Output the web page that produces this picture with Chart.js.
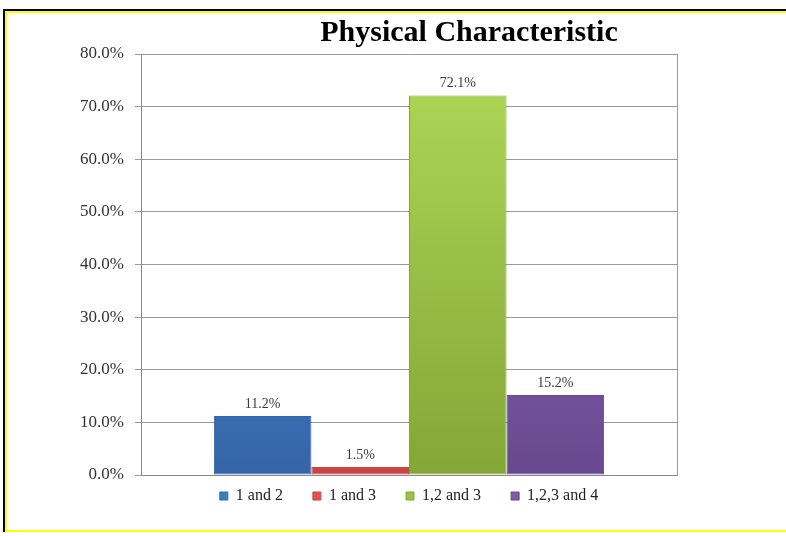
<!DOCTYPE html>
<html>
<head>
<meta charset="utf-8">
<script src="https://cdn.jsdelivr.net/npm/chart.js@4.4.0/dist/chart.umd.min.js"></script>
<style>
  html, body { margin: 0; padding: 0; background: #fff; overflow: hidden; width: 786px; height: 536px; }
  #frame { position: absolute; left: 3px; top: 9px; width: 1000px; height: 521px; border-top: 2px solid #000; border-left: 2px solid #000; }
  #inner { width: 100%; height: 100%; box-sizing: border-box; border-top: 2px solid #ffff00; border-left: 2px solid #ffff00; border-bottom: 2px solid #ffff00; }
  #chartBox { position: absolute; left: 7px; top: 13px; }
</style>
</head>
<body>
<div id="frame"><div id="inner"></div></div>
<div id="chartBox"><canvas id="myChart" width="924" height="519"></canvas></div>
<script>
// data
const seriesNames = ["1 and 2", "1 and 3", "1,2 and 3", "1,2,3 and 4"];
const seriesValues = [11.2, 1.5, 72.1, 15.2];
const yTicks = [0, 10, 20, 30, 40, 50, 60, 70, 80];

// colours: light top, dark bottom, border
const lightColors = ['#4d8ddb', '#ee6a68', '#b0d857', '#9270c4'];
const darkColors = ['#3465a8', '#c94443', '#84a637', '#68498f'];
const baseColors = ['#3f7bc6', '#e05352', '#9dc048', '#7d5aab'];

function barFill(i) {
  return function (ctx) {
    const area = ctx.chart.chartArea;
    if (!area) return baseColors[i];
    const g = ctx.chart.ctx.createLinearGradient(0, area.top, 0, area.bottom);
    g.addColorStop(0, lightColors[i]);
    g.addColorStop(1, darkColors[i]);
    return g;
  };
}

// value labels above bars
const valueLabels = {
  id: 'valueLabels',
  afterDatasetsDraw(chart) {
    const c = chart.ctx;
    c.save();
    c.font = '14px "Liberation Serif", "DejaVu Serif", serif';
    c.fillStyle = '#3a3a3a';
    c.textAlign = 'center';
    c.textBaseline = 'bottom';
    chart.data.datasets.forEach((ds, i) => {
      const bar = chart.getDatasetMeta(i).data[0];
      c.fillText(ds.data[0].toFixed(1) + '%', bar.x, bar.y - 5);
    });
    c.restore();
  }
};

const ctx = document.getElementById("myChart");
new Chart(ctx, {
  type: "bar",
  data: {
    labels: [""],
    datasets: seriesNames.map((name, i) => ({
      label: name,
      data: [seriesValues[i]],
      backgroundColor: barFill(i),
      borderColor: darkColors[i],
      borderWidth: 1,
      borderSkipped: false,
    })),
  },
  options: {
    responsive: false,
    animation: false,
    devicePixelRatio: 1,
    layout: { padding: { left: 0, right: 0, top: 0, bottom: 1 } },
    datasets: { bar: { categoryPercentage: 0.728, barPercentage: 1 } },
    plugins: {
      title: {
        display: true,
        text: "Physical Characteristic",
        color: '#000',
        font: { family: '"Liberation Serif", "DejaVu Serif", serif', size: 30, weight: 'bold' },
        padding: { top: 2, bottom: 3 },
      },
      legend: {
        position: 'bottom',
        fullSize: false,
        labels: {
          boxWidth: 8,
          boxHeight: 8,
          padding: 30,
          color: '#222',
          font: { family: '"Liberation Serif", "DejaVu Serif", serif', size: 16 },
          generateLabels(chart) {
            return chart.data.datasets.map((ds, i) => ({
              text: ds.label,
              fillStyle: baseColors[i],
              strokeStyle: darkColors[i],
              lineWidth: 1,
              datasetIndex: i,
              fontColor: '#222',
            }));
          },
        },
      },
      tooltip: { enabled: false },
    },
    scales: {
      x: {
        grid: { display: true, offset: true, drawTicks: false, color: '#9a9a9a' },
        border: { color: '#888' },
        ticks: { display: false },
        afterFit(scale) { scale.height = -17; },
      },
      y: {
        min: 0,
        max: 80,
        afterBuildTicks(scale) { scale.ticks = yTicks.map(v => ({ value: v })); },
        grid: { color: '#9a9a9a', tickLength: 6 },
        border: { color: '#888' },
        ticks: {
          padding: 11,
          color: '#333',
          font: { family: '"Liberation Serif", "DejaVu Serif", serif', size: 17 },
          callback: v => v.toFixed(1) + '%',
        },
        afterFit(scale) { scale.width = 134; },
      },
      // empty right-hand margin of the wider chart frame
      yRight: {
        position: 'right',
        display: true,
        grid: { display: false },
        border: { display: false },
        ticks: { display: false },
        afterFit(scale) { scale.width = 254; },
      },
    },
  },
  plugins: [valueLabels],
});
</script>
</body>
</html>
